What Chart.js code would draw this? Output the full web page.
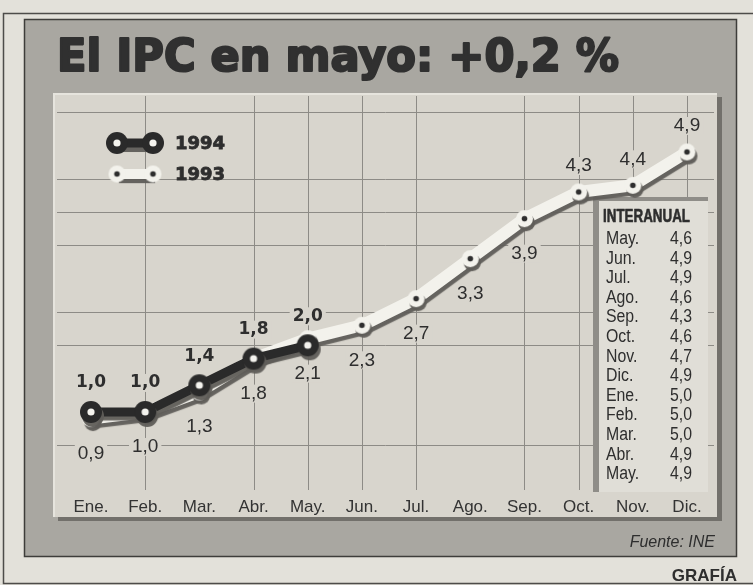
<!DOCTYPE html>
<html><head><meta charset="utf-8">
<script src="https://cdn.jsdelivr.net/npm/chart.js@4.4.1/dist/chart.umd.min.js"></script>
<style>html,body{margin:0;padding:0;background:#e3e1da;overflow:hidden}#wrap{width:753px;height:585px;position:relative}canvas{display:block}</style>
</head><body><div id="wrap"><canvas id="c" width="753" height="585"></canvas></div>
<script>
// ---- data ----
const titleText = 'El IPC en mayo: +0,2 %';
const months = ['Ene.','Feb.','Mar.','Abr.','May.','Jun.','Jul.','Ago.','Sep.','Oct.','Nov.','Dic.'];
const seriesNames = ['1994','1993'];
const ipc1994 = [1.0, 1.0, 1.4, 1.8, 2.0];
const ipc1993 = [0.9, 1.0, 1.3, 1.8, 2.1, 2.3, 2.7, 3.3, 3.9, 4.3, 4.4, 4.9];
const yGridValues = [0.5, 2.0, 2.5, 3.5, 4.0, 4.5, 5.5];
const xGridMonths = ['Feb.','Abr.','May.','Jun.','Jul.','Sep.','Oct.','Nov.','Dic.'];
const tableTitle = 'INTERANUAL';
const tableMonths = ['May.','Jun.','Jul.','Ago.','Sep.','Oct.','Nov.','Dic.','Ene.','Feb.','Mar.','Abr.','May.'];
const tableValues = [4.6, 4.9, 4.9, 4.6, 4.3, 4.6, 4.7, 4.9, 5.0, 5.0, 5.0, 4.9, 4.9];
const sourceText = 'Fuente: INE';
const creditText = 'GRAFÍA';

// ---- styling helpers ----
const W = 753, H = 585;
const INK = '#2e2e2e';
const PANEL = '#d8d5cd';
const fmt = v => v.toFixed(1).replace('.', ',');

function makeDot(r, fill, innerR, innerFill) {
  const c = document.createElement('canvas');
  const s = Math.ceil(r * 2 + 2);
  c.width = s; c.height = s;
  const g = c.getContext('2d');
  g.fillStyle = fill; g.beginPath(); g.arc(s / 2, s / 2, r, 0, Math.PI * 2); g.fill();
  g.fillStyle = innerFill; g.beginPath(); g.arc(s / 2, s / 2, innerR, 0, Math.PI * 2); g.fill();
  return c;
}
const dot94 = makeDot(11, '#2a2a2a', 3.6, '#f4f3ee');
const dot93 = makeDot(8.5, '#f3f2ec', 2.8, '#2e2e2e');

function setShadow(ctx) {
  ctx.shadowColor = 'rgba(95,93,89,0.95)';
  ctx.shadowOffsetX = 2;
  ctx.shadowOffsetY = 4;
  ctx.shadowBlur = 1;
}

function fitText(ctx, text, x, y, width, align, strokeW) {
  const w = ctx.measureText(text).width;
  const s = width / w;
  ctx.save();
  ctx.translate(x, y);
  ctx.scale(s, 1);
  ctx.textAlign = align || 'left';
  ctx.fillText(text, 0, 0);
  if (strokeW) {
    ctx.strokeStyle = ctx.fillStyle;
    ctx.lineWidth = strokeW;
    ctx.lineJoin = 'round';
    ctx.strokeText(text, 0, 0);
  }
  ctx.restore();
}
function scaledText(ctx, text, x, y, sx, align) {
  ctx.save();
  ctx.translate(x, y);
  ctx.scale(sx, 1);
  ctx.textAlign = align || 'left';
  ctx.fillText(text, 0, 0);
  ctx.restore();
}

const framePlugin = {
  id: 'frame',
  beforeDraw(chart) {
    const ctx = chart.ctx;
    ctx.save();
    ctx.fillStyle = '#e3e1da';
    ctx.fillRect(0, 0, W, H);
    ctx.strokeStyle = '#4d4c49'; ctx.lineWidth = 1.5;
    ctx.beginPath(); ctx.moveTo(753, 13.5); ctx.lineTo(3.5, 13.5); ctx.lineTo(3.5, 583.5); ctx.lineTo(753, 583.5); ctx.stroke();
    // grey panel
    ctx.fillStyle = '#a9a7a1';
    ctx.fillRect(24, 19, 713, 538);
    ctx.strokeStyle = '#3e3d3a'; ctx.lineWidth = 1.5;
    ctx.strokeRect(24.5, 19.5, 712, 537);
    // inner panel with shadow
    ctx.fillStyle = '#72706b';
    ctx.fillRect(58, 97, 664, 424);
    ctx.fillStyle = PANEL;
    ctx.fillRect(53, 93, 664, 424);
    ctx.fillStyle = '#e6e4dd';
    ctx.fillRect(53, 93, 664, 2);
    ctx.fillRect(53, 93, 2, 424);
    // title
    ctx.fillStyle = '#303030';
    ctx.font = 'bold 44px "DejaVu Sans"';
    ctx.textBaseline = 'alphabetic';
    fitText(ctx, titleText, 57, 71, 562, 'left', 2.2);
    // source + credit
    ctx.fillStyle = INK;
    ctx.textBaseline = 'middle';
    ctx.font = 'italic 16px "Liberation Sans"';
    ctx.textAlign = 'right';
    ctx.fillText(sourceText, 715, 543);
    ctx.font = 'bold 17px "Liberation Sans"';
    ctx.fillText(creditText, 737, 576);
    ctx.restore();
  },
  beforeDatasetsDraw(chart) {
    const ctx = chart.ctx;
    const xs = chart.scales.x, ys = chart.scales.y;
    ctx.save();
    ctx.strokeStyle = '#8d8b86'; ctx.lineWidth = 1;
    ctx.beginPath();
    yGridValues.forEach(v => {
      const y = Math.round(ys.getPixelForValue(v)) + 0.5;
      ctx.moveTo(57, y); ctx.lineTo(714, y);
    });
    xGridMonths.forEach(m => {
      const x = Math.round(xs.getPixelForValue(months.indexOf(m))) + 0.5;
      ctx.moveTo(x, 96); ctx.lineTo(x, 490);
    });
    ctx.stroke();
    // knock-outs behind value labels
    ctx.fillStyle = PANEL;
    labelBoxes(chart).forEach(b => ctx.fillRect(b.x - b.w / 2 - 3, b.y - 9, b.w + 6, 18));
    // table box
    ctx.fillStyle = '#8f8d88';
    ctx.fillRect(593, 197, 115, 4);
    ctx.fillRect(593, 197, 6, 295);
    ctx.fillStyle = '#e0ded7';
    ctx.fillRect(599, 201, 109, 291);
    ctx.fillStyle = INK;
    ctx.textBaseline = 'middle';
    ctx.font = 'bold 18px "Liberation Sans"';
    fitText(ctx, tableTitle, 603, 217, 87, 'left', 0.6);
    ctx.font = '18px "Liberation Sans"';
    tableMonths.forEach((m, i) => {
      const y = 239 + i * 19.6;
      scaledText(ctx, m, 606, y, 0.88, 'left');
      scaledText(ctx, fmt(tableValues[i]), 692, y, 0.88, 'right');
    });
    ctx.restore();
  },
  beforeDatasetDraw(chart) {
    chart.ctx.save();
    setShadow(chart.ctx);
  },
  afterDatasetDraw(chart) {
    chart.ctx.restore();
  },
  afterDatasetsDraw(chart) {
    const ctx = chart.ctx;
    ctx.save();
    // legend
    const legend = [
      { name: seriesNames[0], y: 143, color: '#2a2a2a', w: 9, dot: dot94 },
      { name: seriesNames[1], y: 174, color: '#f3f2ec', w: 10, dot: dot93 }
    ];
    legend.forEach(l => {
      ctx.save();
      setShadow(ctx);
      ctx.strokeStyle = l.color; ctx.lineWidth = l.w;
      ctx.beginPath(); ctx.moveTo(117, l.y); ctx.lineTo(153, l.y); ctx.stroke();
      ctx.restore();
      [117, 153].forEach(x => ctx.drawImage(l.dot, x - l.dot.width / 2, l.y - l.dot.height / 2));
      ctx.fillStyle = INK;
      ctx.strokeStyle = INK; ctx.lineWidth = 0.8;
      ctx.font = 'bold 18px "DejaVu Sans"';
      ctx.textBaseline = 'middle'; ctx.textAlign = 'left';
      ctx.fillText(l.name, 175, l.y + 1);
      ctx.strokeText(l.name, 175, l.y + 1);
    });
    // value labels
    ctx.fillStyle = INK;
    ctx.textAlign = 'center'; ctx.textBaseline = 'middle';
    labelBoxes(chart).forEach(b => {
      ctx.font = b.font;
      ctx.fillText(b.text, b.x, b.y);
    });
    ctx.restore();
  }
};

function labelBoxes(chart) {
  const ctx = chart.ctx;
  const out = [];
  const f94 = 'bold 17px "DejaVu Sans"';
  const f93 = '19px "Liberation Sans"';
  chart.getDatasetMeta(0).data.forEach((p, i) => {
    if (ipc1994[i] == null) return;
    ctx.font = f94;
    const t = fmt(ipc1994[i]);
    out.push({ text: t, font: f94, x: p.x, y: p.y - 29, w: ctx.measureText(t).width });
  });
  chart.getDatasetMeta(1).data.forEach((p, i) => {
    ctx.font = f93;
    const t = fmt(ipc1993[i]);
    const below = i < 9;
    out.push({ text: t, font: f93, x: p.x, y: below ? p.y + 35 : p.y - 26, w: ctx.measureText(t).width });
  });
  return out;
}

new Chart(document.getElementById('c'), {
  type: 'line',
  data: {
    labels: months,
    datasets: [
      { label: seriesNames[0], data: ipc1994, borderColor: '#2a2a2a', borderWidth: 9,
        pointStyle: dot94, pointRadius: 11, tension: 0, fill: false, borderCapStyle: 'round', borderJoinStyle: 'round' },
      { label: seriesNames[1], data: ipc1993, borderColor: '#f3f2ec', borderWidth: 12,
        pointStyle: dot93, pointRadius: 9, tension: 0, fill: false, borderCapStyle: 'round', borderJoinStyle: 'round' }
    ]
  },
  options: {
    responsive: false,
    devicePixelRatio: 1,
    animation: false,
    layout: { padding: { left: 91, right: 66, top: 112, bottom: 48 } },
    plugins: { legend: { display: false }, tooltip: { enabled: false }, title: { display: false } },
    scales: {
      x: {
        type: 'category', offset: false,
        grid: { display: false, drawTicks: false }, border: { display: false },
        ticks: { color: '#333', padding: 19, font: { family: '"Liberation Sans"', size: 17 }, maxRotation: 0, autoSkip: false }
      },
      y: { display: false, min: 0, max: 5.5 }
    }
  },
  plugins: [framePlugin]
});
</script>
</body></html>
